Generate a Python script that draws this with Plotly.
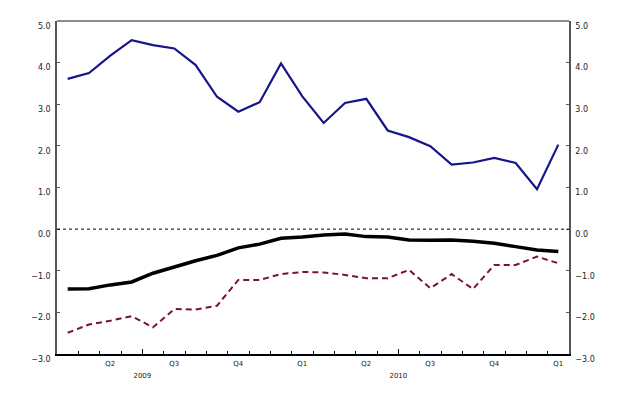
import plotly.graph_objects as go

months = ["2009-03", "2009-04", "2009-05", "2009-06", "2009-07", "2009-08",
          "2009-09", "2009-10", "2009-11", "2009-12", "2010-01", "2010-02",
          "2010-03", "2010-04", "2010-05", "2010-06", "2010-07", "2010-08",
          "2010-09", "2010-10", "2010-11", "2010-12", "2011-01", "2011-02"]

blue_series = [3.61, 3.75, 4.17, 4.54, 4.42, 4.34, 3.94, 3.18, 2.82, 3.05, 3.98, 3.19,
               2.55, 3.03, 3.13, 2.37, 2.21, 1.99, 1.55, 1.60, 1.71, 1.59, 0.96, 2.03]
black_series = [-1.44, -1.43, -1.34, -1.27, -1.06, -0.90, -0.76, -0.63, -0.45, -0.36, -0.22, -0.19,
                -0.14, -0.12, -0.18, -0.19, -0.26, -0.27, -0.26, -0.29, -0.34, -0.42, -0.50, -0.54]
red_series = [-2.49, -2.29, -2.20, -2.09, -2.36, -1.92, -1.93, -1.84, -1.22, -1.22, -1.08, -1.03,
              -1.04, -1.10, -1.18, -1.18, -0.98, -1.42, -1.08, -1.44, -0.86, -0.86, -0.66, -0.82]

y_ticks = [-3, -2, -1, 0, 1, 2, 3, 4, 5]
quarter_names = {2: "Q1", 5: "Q2", 8: "Q3", 11: "Q4"}

x = list(range(len(months)))
mon = [int(m.split("-")[1]) for m in months]
yr = [m.split("-")[0] for m in months]

# month boundaries (minor ticks), quarter boundaries (major ticks)
month_bounds = [i - 0.5 for i in x[1:]]
quarter_bounds = [i - 0.5 for i in x if mon[i] in (1, 4, 7, 10) and i > 0]
# quarter labels at middle month of quarter
q_pos = [i for i in x if mon[i] in quarter_names]
q_text = [quarter_names[mon[i]] for i in q_pos]
# year labels at middle of calendar year (boundary June/July)
year_text = []
for b in quarter_bounds:
    i = int(b + 0.5)
    year_text.append(yr[i] if mon[i] == 7 else "")

fig = go.Figure()
fig.add_trace(go.Scatter(x=x, y=blue_series, mode="lines",
                         line=dict(color="#16168a", width=2.2), showlegend=False))
fig.add_trace(go.Scatter(x=x, y=black_series, mode="lines",
                         line=dict(color="#000000", width=3.5), showlegend=False))
fig.add_trace(go.Scatter(x=x, y=red_series, mode="lines",
                         line=dict(color="#7a1040", width=2, dash="6px,4px"), showlegend=False))
# invisible trace to attach the second x axis (quarter labels)
fig.add_trace(go.Scatter(x=[x[0]], y=[blue_series[0]], xaxis="x2", mode="lines",
                         line=dict(width=0), hoverinfo="skip", showlegend=False))
# invisible trace for right y axis
fig.add_trace(go.Scatter(x=[x[0]], y=[blue_series[0]], yaxis="y2", mode="lines",
                         line=dict(width=0), hoverinfo="skip", showlegend=False))

fig.add_shape(type="line", xref="paper", x0=0, x1=1, yref="y", y0=0, y1=0,
              line=dict(color="#000000", width=1, dash="dot"))

tickfont_y = dict(family="DejaVu Sans", size=8, color="#222222")
tickfont_x = dict(family="DejaVu Sans", size=7, color="#222222")

fig.update_layout(
    width=624, height=396,
    margin=dict(l=57, r=55, t=21, b=42, autoexpand=False),
    paper_bgcolor="white", plot_bgcolor="white",
    xaxis=dict(range=[-0.5, len(months) - 0.5], showgrid=False, zeroline=False,
               showline=True, linecolor="#000000", linewidth=1.5, mirror=False,
               tickmode="array", tickvals=quarter_bounds, ticktext=year_text,
               ticks="inside", ticklen=5, tickcolor="#000000", tickwidth=1,
               tickfont=tickfont_x, ticklabelstandoff=14, automargin=False,
               minor=dict(tickmode="array", tickvals=month_bounds, ticks="inside",
                          ticklen=3, tickcolor="#000000", tickwidth=1)),
    xaxis2=dict(range=[-0.5, len(months) - 0.5], overlaying="x", side="bottom", anchor="y",
                showgrid=False, zeroline=False, showline=False, automargin=False,
                tickmode="array", tickvals=q_pos, ticktext=q_text, ticks="",
                tickfont=tickfont_x, ticklabelstandoff=4),
    yaxis=dict(range=[-3, 5], showgrid=False, zeroline=False, automargin=False,
               showline=True, linecolor="#555555", linewidth=1.5,
               tickmode="array", tickvals=y_ticks, tickformat=".1f",
               ticks="inside", ticklen=3, tickcolor="#555555",
               tickfont=tickfont_y, ticklabelshift=5, ticklabelstandoff=3),
    yaxis2=dict(range=[-3, 5], overlaying="y", side="right", anchor="x",
                showgrid=False, zeroline=False, automargin=False,
                showline=True, linecolor="#555555", linewidth=1.5,
                tickmode="array", tickvals=y_ticks, tickformat=".1f",
                ticks="inside", ticklen=3, tickcolor="#555555",
                tickfont=tickfont_y, ticklabelshift=5, ticklabelstandoff=3),
)
# top border
fig.add_shape(type="line", xref="paper", yref="paper", x0=0, x1=1, y0=1, y1=1,
              line=dict(color="#666666", width=1.5))

fig.write_html("out.html", config={"displayModeBar": False},
               post_script="document.body.style.margin='0';")
